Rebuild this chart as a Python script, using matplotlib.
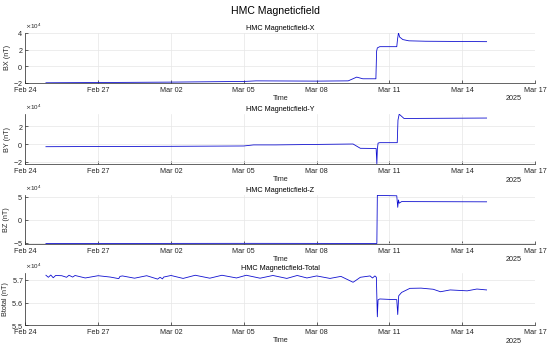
import matplotlib
matplotlib.use("Agg")
import matplotlib.pyplot as plt
import matplotlib.dates as mdates
from matplotlib.ticker import ScalarFormatter
import numpy as np

plt.rcParams['font.family'] = ['Liberation Sans', 'DejaVu Sans']

start = np.datetime64('2025-02-24T00:00')
tick_dates = ['2025-02-24', '2025-02-27', '2025-03-02', '2025-03-05',
              '2025-03-08', '2025-03-11', '2025-03-14', '2025-03-17']

# days since Feb 24, values in nT
bx_days = [0.85, 1.5, 3.0, 6.0, 9.0, 9.5, 12.0, 13.3, 13.65, 13.9, 14.44, 14.47,
           14.5, 14.6, 15.3, 15.33, 15.37, 15.42, 15.55, 15.8, 16.5, 19.0]
bx_vals = [-19800, -19700, -19500, -19000, -18200, -17500, -17800, -17500, -13000,
           -15000, -15000, 18000, 22000, 23500, 23500, 32000, 40000, 35000, 32000,
           30500, 30000, 29500]

by_days = [0.85, 3.0, 6.0, 9.0, 9.4, 10.3, 13.5, 13.8, 14.45, 14.48, 14.5, 14.53,
           14.6, 15.32, 15.35, 15.4, 15.6, 19.0]
by_vals = [-3000, -2800, -2600, -2200, -1000, -1000, 0, -4800, -5000, -22200,
           -6000, 1000, 1500, 1500, 26700, 33300, 28500, 29000]

bz_days = [0.85, 3.0, 6.0, 9.0, 12.0, 14.48, 14.5, 15.3, 15.34, 15.37, 15.4, 15.5, 19.0]
bz_vals = [-52200, -52000, -51800, -51700, -51800, -52000, 53000, 52200, 27000,
           43000, 36000, 39500, 39000]

bt_days = [0.85, 0.95, 1.05, 1.15, 1.25, 1.5, 1.7, 1.8, 1.95, 2.05, 2.47, 3.0, 3.5,
           3.85, 3.9, 4.0, 4.5, 5.0, 5.45, 5.55, 5.65, 5.7, 6.0, 6.5, 7.0, 7.6, 8.1,
           8.7, 9.1, 9.67, 10.2, 10.77, 11.2, 11.6, 12.0, 12.55, 13.0, 13.5, 13.6,
           13.8, 14.0, 14.2, 14.3, 14.4, 14.46, 14.5, 14.53, 14.6, 15.0, 15.3, 15.34,
           15.38, 15.5, 15.84, 16.3, 16.8, 17.1, 17.5, 18.2, 18.6, 19.0]
bt_vals = [57210, 57120, 57220, 57100, 57200, 57190, 57120, 57210, 57130, 57200,
           57090, 57190, 57130, 57060, 57160, 57180, 57080, 57190, 57040, 57120,
           57050, 57130, 57200, 57070, 57210, 57080, 57210, 57090, 57210, 57080,
           57200, 57070, 57200, 57090, 57180, 57070, 57160, 56900, 56970, 57120,
           57150, 57180, 57090, 57180, 57120, 55370, 56120, 56160, 56140, 56130,
           55470, 56300, 56450, 56630, 56640, 56590, 56480, 56560, 56520, 56600,
           56560]

panels = [
    ('HMC Magneticfield-X', 'BX (nT)', bx_days, bx_vals, (-20000, 40000), [-20000, 0, 20000, 40000]),
    ('HMC Magneticfield-Y', 'BY (nT)', by_days, by_vals, (-22500, 33400), [-20000, 0, 20000]),
    ('HMC Magneticfield-Z', 'BZ (nT)', bz_days, bz_vals, (-53000, 54000), [-50000, 0, 50000]),
    ('HMC Magneticfield-Total', 'Btotal (nT)', bt_days, bt_vals, (55000, 57310), [55000, 56000, 57000]),
]
positions = [(0.046, 0.763, 0.927, 0.143), (0.046, 0.531, 0.927, 0.143),
             (0.046, 0.303, 0.927, 0.140), (0.046, 0.071, 0.927, 0.149)]

fs = 5.2
fig = plt.figure(figsize=(5.5, 3.5), dpi=100)
fig.suptitle('HMC Magneticfield', fontsize=7.6, y=0.982)

grey = '#262626'
for (title, ylabel, days, vals, ylim, yticks), pos in zip(panels, positions):
    ax = fig.add_axes(pos)
    t = start + (np.array(days) * 86400).astype('timedelta64[s]')
    ax.plot(t.astype('datetime64[s]').astype(object), vals, color='#1010d0', lw=0.6)
    ax.set_xlim(np.datetime64('2025-02-24').astype(object), np.datetime64('2025-03-17').astype(object))
    ax.set_xticks([np.datetime64(d).astype(object) for d in tick_dates])
    ax.xaxis.set_major_formatter(mdates.DateFormatter('%b %d'))
    ax.set_ylim(*ylim)
    ax.set_yticks(yticks)
    fmt = ScalarFormatter(useMathText=True, useOffset=False)
    fmt.set_powerlimits((0, 0))
    ax.yaxis.set_major_formatter(fmt)
    ax.yaxis.get_offset_text().set_fontsize(4.5)
    ax.yaxis.get_offset_text().set_color(grey)
    ax.set_title(title, fontsize=5.2, pad=2)
    ax.set_ylabel(ylabel, fontsize=fs, color=grey, labelpad=2)
    ax.set_xlabel('Time', fontsize=fs, color=grey, labelpad=1)
    ax.text(0.974, -0.25, '2025', transform=ax.transAxes, ha='right', va='top',
            fontsize=fs, color=grey)
    ax.tick_params(axis='both', direction='in', labelsize=fs, colors=grey,
                   length=2.5, width=0.5, pad=1.5)
    ax.tick_params(axis='x', pad=2.8)
    ax.grid(True, color='#e6e6e6', lw=0.5)
    for s in ['top', 'right']:
        ax.spines[s].set_visible(False)
    for s in ['left', 'bottom']:
        ax.spines[s].set_color(grey)
        ax.spines[s].set_linewidth(0.5)

fig.savefig('out.png', dpi=100)
